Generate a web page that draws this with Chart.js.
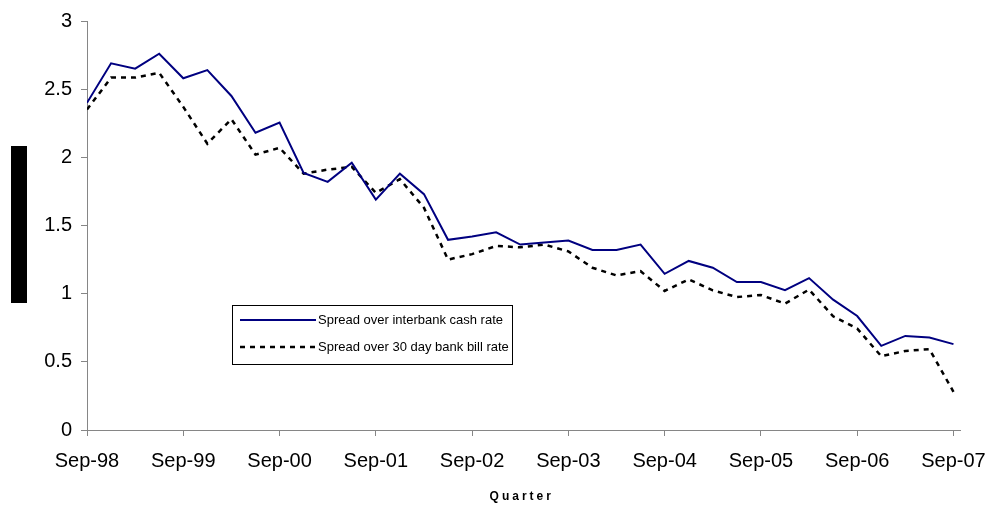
<!DOCTYPE html>
<html>
<head>
<meta charset="utf-8">
<script src="https://cdn.jsdelivr.net/npm/chart.js@4"></script>
<style>
  html, body { margin: 0; padding: 0; background: #fff; }
  #wrap { position: relative; width: 999px; height: 507px; }
  #ytitleBox { position: absolute; left: 11px; top: 146px; width: 16px; height: 157px; background: #000; }
</style>
</head>
<body>
<div id="wrap">
  <canvas id="chart" width="999" height="507"></canvas>
  <div id="ytitleBox"></div>
</div>
<script>
// Quarterly spreads, Sep-98 .. Sep-07
const quarters = [
  'Sep-98', 'Dec-98', 'Mar-99', 'Jun-99', 'Sep-99', 'Dec-99', 'Mar-00', 'Jun-00',
  'Sep-00', 'Dec-00', 'Mar-01', 'Jun-01', 'Sep-01', 'Dec-01', 'Mar-02', 'Jun-02',
  'Sep-02', 'Dec-02', 'Mar-03', 'Jun-03', 'Sep-03', 'Dec-03', 'Mar-04', 'Jun-04',
  'Sep-04', 'Dec-04', 'Mar-05', 'Jun-05', 'Sep-05', 'Dec-05', 'Mar-06', 'Jun-06',
  'Sep-06', 'Dec-06', 'Mar-07', 'Jun-07', 'Sep-07'
];

const cashRateSpread = [
  2.40, 2.69, 2.65, 2.76, 2.58, 2.64, 2.45, 2.18, 2.255, 1.885, 1.82, 1.96, 1.69,
  1.88, 1.73, 1.395, 1.42, 1.45, 1.36, 1.375, 1.39, 1.32, 1.32, 1.36, 1.146,
  1.24, 1.19, 1.085, 1.085, 1.026, 1.114, 0.956, 0.836, 0.617, 0.69, 0.678, 0.63
];

const billRateSpread = [
  2.35, 2.585, 2.585, 2.62, 2.37, 2.10, 2.28, 2.02, 2.07, 1.88, 1.91, 1.93, 1.74,
  1.84, 1.63, 1.25, 1.29, 1.35, 1.34, 1.36, 1.31, 1.19, 1.134, 1.165, 1.02,
  1.105, 1.024, 0.975, 0.99, 0.927, 1.03, 0.834, 0.744, 0.541, 0.58, 0.593, 0.28
];

const seriesNames = ['Spread over interbank cash rate', 'Spread over 30 day bank bill rate'];
const xAxisTitle = 'Quarter';

const FONT = '"Liberation Sans", Arial, sans-serif';
const AXIS_GREY = '#868686';

const toPoints = (vals) => vals.map((v, i) => ({ x: i, y: v }));

// legend box drawn inside the plot, like the original
const boxLegend = {
  id: 'boxLegend',
  afterDraw(chart) {
    const ctx = chart.ctx;
    const x0 = 232, y0 = 305, w = 280, h = 59;
    ctx.save();
    ctx.fillStyle = '#fff';
    ctx.fillRect(x0, y0, w, h);
    ctx.strokeStyle = '#000';
    ctx.lineWidth = 1;
    ctx.strokeRect(x0 + 0.5, y0 + 0.5, w, h);

    const rows = [320, 347];
    chart.data.datasets.forEach((ds, i) => {
      const y = rows[i];
      ctx.beginPath();
      ctx.strokeStyle = ds.borderColor;
      ctx.lineWidth = ds.borderWidth;
      ctx.setLineDash(ds.borderDash || []);
      ctx.moveTo(240, y);
      ctx.lineTo(316, y);
      ctx.stroke();
      ctx.setLineDash([]);
      ctx.fillStyle = '#000';
      ctx.font = '13px ' + FONT;
      ctx.textBaseline = 'middle';
      ctx.textAlign = 'left';
      ctx.fillText(ds.label, 318, y);
    });

    // axis title with the wide letter spacing of the original
    ctx.font = 'bold 12px ' + FONT;
    ctx.letterSpacing = '3px';
    ctx.textAlign = 'center';
    ctx.textBaseline = 'middle';
    ctx.fillStyle = '#000';
    const xs = chart.scales.x;
    ctx.fillText(xAxisTitle, (xs.left + xs.getPixelForValue(36)) / 2 + 1.5, 497);
    ctx.restore();
  }
};

new Chart(document.getElementById('chart'), {
  type: 'line',
  data: {
    datasets: [
      {
        label: seriesNames[0],
        data: toPoints(cashRateSpread),
        borderColor: '#000080',
        borderWidth: 2,
        pointRadius: 0,
        tension: 0,
        fill: false
      },
      {
        label: seriesNames[1],
        data: toPoints(billRateSpread),
        borderColor: '#000000',
        borderWidth: 2.5,
        borderDash: [5, 5],
        pointRadius: 0,
        tension: 0,
        fill: false
      }
    ]
  },
  options: {
    responsive: false,
    animation: false,
    layout: { padding: { top: 20, right: 34, left: 0, bottom: 0 } },
    plugins: {
      legend: { display: false },
      tooltip: { enabled: false },
      title: { display: false }
    },
    scales: {
      x: {
        type: 'linear',
        min: 0,
        max: 36.3,
        afterFit: (s) => { s.height = 77; },
        border: { color: AXIS_GREY, width: 1 },
        grid: { drawOnChartArea: false, drawTicks: true, tickLength: 6, tickColor: AXIS_GREY },
        ticks: {
          stepSize: 4,
          includeBounds: false,
          autoSkip: false,
          maxRotation: 0,
          padding: 13,
          color: '#000',
          font: { family: FONT, size: 20 },
          callback: (v) => quarters[v] || ''
        }
      },
      y: {
        min: 0,
        max: 3,
        afterFit: (s) => { s.width = 87; },
        border: { color: AXIS_GREY, width: 1 },
        grid: { drawOnChartArea: false, drawTicks: true, tickLength: 6, tickColor: AXIS_GREY },
        ticks: {
          stepSize: 0.5,
          padding: 9,
          color: '#000',
          font: { family: FONT, size: 20 },
          callback: (v) => String(v)
        }
      }
    }
  },
  plugins: [boxLegend]
});
</script>
</body>
</html>
